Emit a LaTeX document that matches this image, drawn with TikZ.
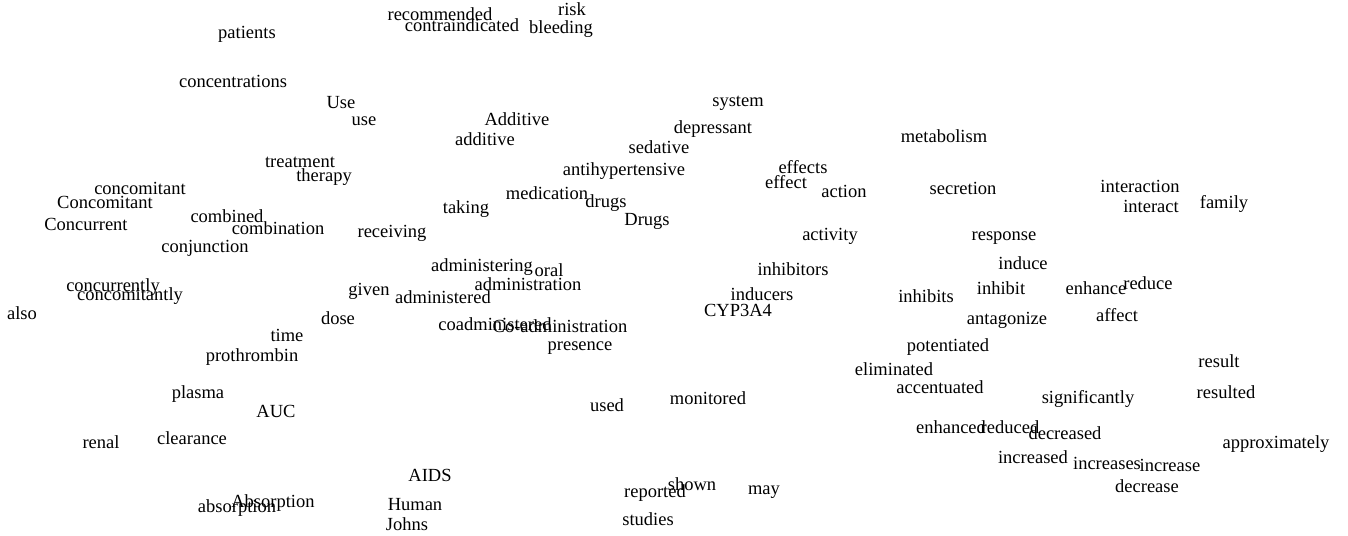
\documentclass[tikz,border=0pt]{standalone}
\usepackage{fontspec}
\setmainfont{Liberation Serif}
\usepackage{tikz}
\usetikzlibrary{positioning}
\tikzset{
    word/.style={inner sep=0pt, anchor=base, font=\fontsize{18.5}{21}\selectfont},
}

\begin{document}
\begin{tikzpicture}[x=1pt, y=-1pt]
	\useasboundingbox (0,0) rectangle (1348,535);
	% top
	\node[word] (recommended) at (440,21) {recommended};
	\node[word] (risk) at (572,16) {risk};
	\node[word] (contraindicated) at (462,32) {contraindicated};
	\node[word] (bleeding) at (561,34) {bleeding};
	\node[word] (patients) at (247,38) {patients};
	\node[word] (concentrations) at (233,87) {concentrations};
	\node[word] (Use) at (341,108) {Use};
	\node[word] (use) at (364,125) {use};
	\node[word] (Additive) at (517,125) {Additive};
	\node[word] (additive) at (485,145) {additive};
	\node[word] (system) at (738,106) {system};
	\node[word] (depressant) at (713,133) {depressant};
	\node[word] (sedative) at (659,153) {sedative};
	\node[word] (metabolism) at (944,142) {metabolism};
	\node[word] (antihypertensive) at (624,175) {antihypertensive};
	\node[word] (effects) at (803,173) {effects};
	\node[word] (effect) at (786,188) {effect};
	\node[word] (action) at (844,197) {action};
	\node[word] (secretion) at (963,194) {secretion};
	\node[word] (interaction) at (1140,192) {interaction};
	\node[word] (interact) at (1151,212) {interact};
	\node[word] (family) at (1224,208) {family};
	% left
	\node[word] (treatment) at (300,167) {treatment};
	\node[word] (therapy) at (324,181) {therapy};
	\node[word] (concomitant) at (140,194) {concomitant};
	\node[word] (Concomitant) at (105,208) {Concomitant};
	\node[word] (Concurrent) at (86,230) {Concurrent};
	\node[word] (combined) at (227,222) {combined};
	\node[word] (combination) at (278,234) {combination};
	\node[word] (conjunction) at (205,252) {conjunction};
	\node[word] (receiving) at (392,237) {receiving};
	\node[word] (taking) at (466,213) {taking};
	\node[word] (medication) at (547,199) {medication};
	\node[word] (drugs) at (606,207) {drugs};
	\node[word] (Drugs) at (647,225) {Drugs};
	\node[word] (activity) at (830,240) {activity};
	\node[word] (response) at (1004,240) {response};
	% middle
	\node[word] (administering) at (482,271) {administering};
	\node[word] (oral) at (549,276) {oral};
	\node[word] (administration) at (528,290) {administration};
	\node[word] (inhibitors) at (793,275) {inhibitors};
	\node[word] (induce) at (1023,269) {induce};
	\node[word] (concurrently) at (113,291) {concurrently};
	\node[word] (concomitantly) at (130,300) {concomitantly};
	\node[word] (given) at (369,295) {given};
	\node[word] (administered) at (443,303) {administered};
	\node[word] (inducers) at (762,300) {inducers};
	\node[word] (inhibits) at (926,302) {inhibits};
	\node[word] (inhibit) at (1001,294) {inhibit};
	\node[word] (enhance) at (1096,294) {enhance};
	\node[word] (reduce) at (1148,289) {reduce};
	\node[word] (also) at (22,319) {also};
	\node[word] (dose) at (338,324) {dose};
	\node[word] (coadministered) at (495,330) {coadministered};
	\node[word] (Coadministration) at (560,332) {Co-administration};
	\node[word] (CYP3A4) at (738,316) {CYP3A4};
	\node[word] (antagonize) at (1007,324) {antagonize};
	\node[word] (affect) at (1117,321) {affect};
	\node[word] (time) at (287,341) {time};
	\node[word] (presence) at (580,350) {presence};
	\node[word] (prothrombin) at (252,361) {prothrombin};
	\node[word] (potentiated) at (948,351) {potentiated};
	\node[word] (eliminated) at (894,375) {eliminated};
	\node[word] (result) at (1219,367) {result};
	\node[word] (accentuated) at (940,393) {accentuated};
	% bottom
	\node[word] (plasma) at (198,398) {plasma};
	\node[word] (AUC) at (276,417) {AUC};
	\node[word] (used) at (607,411) {used};
	\node[word] (monitored) at (708,404) {monitored};
	\node[word] (significantly) at (1088,403) {significantly};
	\node[word] (resulted) at (1226,398) {resulted};
	\node[word] (renal) at (101,448) {renal};
	\node[word] (clearance) at (192,444) {clearance};
	\node[word] (enhanced) at (951,433) {enhanced};
	\node[word] (reduced) at (1010,433) {reduced};
	\node[word] (decreased) at (1065,439) {decreased};
	\node[word] (approximately) at (1276,448) {approximately};
	\node[word] (increased) at (1033,463) {increased};
	\node[word] (increases) at (1107,469) {increases};
	\node[word] (increase) at (1170,471) {increase};
	\node[word] (decrease) at (1147,492) {decrease};
	\node[word] (AIDS) at (430,481) {AIDS};
	\node[word] (Absorption) at (273,507) {Absorption};
	\node[word] (absorption) at (237,512) {absorption};
	\node[word] (Human) at (415,510) {Human};
	\node[word] (Johns) at (407,530) {Johns};
	\node[word] (reported) at (655,497) {reported};
	\node[word] (shown) at (692,490) {shown};
	\node[word] (may) at (764,494) {may};
	\node[word] (studies) at (648,525) {studies};
\end{tikzpicture}
\end{document}
